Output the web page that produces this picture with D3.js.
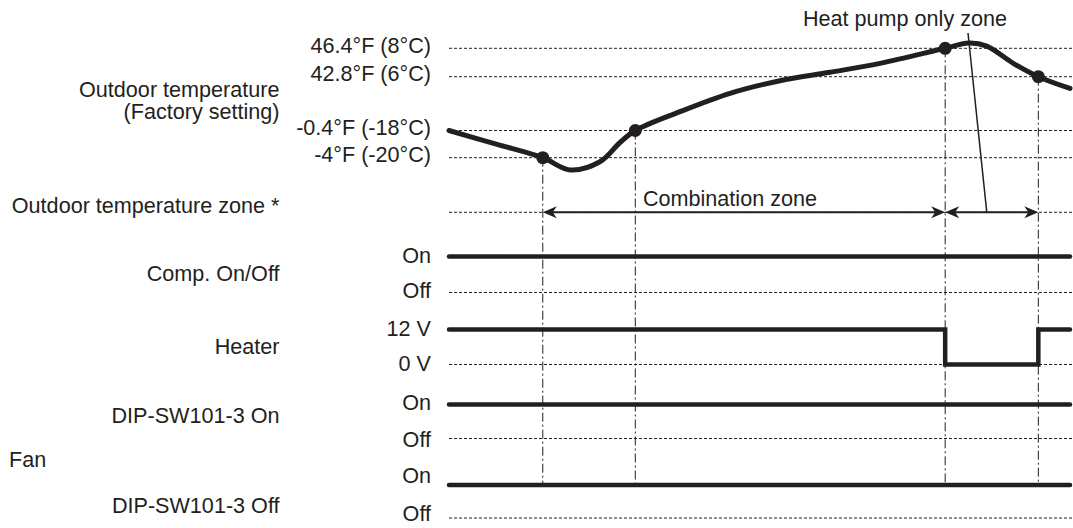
<!DOCTYPE html>
<html lang="en">
<head>
<meta charset="UTF-8">
<title>Heater timing chart</title>
<style>
  html, body { margin: 0; padding: 0; background: #fff; }
  svg text { font-family: "Liberation Sans", Arial, sans-serif; font-size: 21.6px; fill: #231f20; }
</style>
</head>
<body>
<div id="chart"></div>
<script src="https://d3js.org/d3.v7.min.js"></script>
<script>
// temperature levels (deg C) with their labels
const tempLevels = [8, 6, -18, -20];
const tempLabels = ["46.4°F (8°C)", "42.8°F (6°C)", "-0.4°F (-18°C)", "-4°F (-20°C)"];

// outdoor temperature curve, time 0..100, temp in deg C
const curveTime = [0, 7.6, 15.1, 19.5, 24.3, 27.5, 30, 37.2, 45.25, 53.3, 61.35, 69.4, 79.9, 83.7, 86.6, 90.8, 94.9, 100];
const curveTemp = [-18, -19, -20, -20.9, -20.3, -18.9, -18, -9.6, -1.4, 4.2, 6.31, 6.94, 8, 8.37, 8.15, 6.96, 6, 0.8];

// switching points: time and temperature
const eventTime = [15.1, 30, 79.9, 94.9];
const eventTemp = [-20, -18, 8, 6];

// zones along the time axis
const zoneNames = ["Combination zone", "Heat pump only zone"];
const zoneFrom = [15.1, 79.9];
const zoneTo = [79.9, 94.9];

// timing rows
const rowNames = ["Comp. On/Off", "Heater", "DIP-SW101-3 On", "DIP-SW101-3 Off"];
const rowStates = [["On", "Off"], ["12 V", "0 V"], ["On", "Off"], ["On", "Off"]];
// step signals: [time, level] with 1 = high, 0 = low
const rowSignals = [
  [[0, 1], [100, 1]],
  [[0, 1], [79.9, 0], [94.9, 1], [100, 1]],
  [[0, 1], [100, 1]],
  [[0, 1], [100, 1]]
];

// ---- layout ----
const W = 1073, H = 528;
const ink = "#231f20";
const x0 = 449, x1 = 1070;
const labelRight = 279.5, valueRight = 431;
// y of high/low line per row, and label baseline offsets
const rowLineY = [[256.5, 292.5], [329.5, 364.5], [404.5, 438.5], [485, 518]];
const rowStateDy = [[6, 5], [6.5, 6.5], [5.5, 8], [-1.7, 2.7]];
const rowLabelY = [280.7, 354.3, 423.3, 512.7];
const zoneY = 212.3;

const svg = d3.select("#chart").append("svg")
  .attr("width", W).attr("height", H);

const x = d3.scaleLinear().domain([0, 100]).range([x0, x1]);
const yT = d3.scaleLinear().domain([-20, -18, 6, 8]).range([157.7, 130.5, 76.7, 48.3]);

const dotted = "3,2";

// temperature dotted lines + labels
tempLevels.forEach((t, i) => {
  svg.append("line")
    .attr("x1", x0).attr("x2", W)
    .attr("y1", yT(t)).attr("y2", yT(t))
    .attr("stroke", ink).attr("stroke-width", 1).attr("stroke-dasharray", dotted);
  svg.append("text")
    .attr("x", valueRight).attr("y", yT(t) + 4.2)
    .attr("text-anchor", "end")
    .text(tempLabels[i]);
});

// left labels
svg.append("text").attr("x", labelRight).attr("y", 96.7).attr("text-anchor", "end").text("Outdoor temperature");
svg.append("text").attr("x", labelRight).attr("y", 119.3).attr("text-anchor", "end").text("(Factory setting)");
svg.append("text").attr("x", labelRight).attr("y", 212.7).attr("text-anchor", "end").text("Outdoor temperature zone *");
svg.append("text").attr("x", 9).attr("y", 467.3).text("Fan");

// zone row dotted line
svg.append("line")
  .attr("x1", x0).attr("x2", W)
  .attr("y1", zoneY).attr("y2", zoneY)
  .attr("stroke", ink).attr("stroke-width", 1).attr("stroke-dasharray", dotted);

// timing rows
rowNames.forEach((name, i) => {
  svg.append("text")
    .attr("x", labelRight).attr("y", rowLabelY[i])
    .attr("text-anchor", "end")
    .text(name);
  const [yHi, yLo] = rowLineY[i];
  rowStates[i].forEach((s, k) => {
    svg.append("text")
      .attr("x", valueRight).attr("y", rowLineY[i][k] + rowStateDy[i][k])
      .attr("text-anchor", "end")
      .text(s);
  });
  svg.append("line")
    .attr("x1", x0).attr("x2", W)
    .attr("y1", yLo).attr("y2", yLo)
    .attr("stroke", ink).attr("stroke-width", 1).attr("stroke-dasharray", dotted);
});

// vertical dash-dot lines at switching points
eventTime.forEach((t, i) => {
  svg.append("line")
    .attr("x1", x(t)).attr("x2", x(t))
    .attr("y1", yT(eventTemp[i])).attr("y2", rowLineY[3][0])
    .attr("stroke", ink).attr("stroke-width", 1)
    .attr("stroke-dasharray", "9,3,2,3");
});

// signal lines
rowSignals.forEach((sig, i) => {
  const [yHi, yLo] = rowLineY[i];
  const line = d3.line()
    .x(d => x(d[0]))
    .y(d => d[1] ? yHi : yLo)
    .curve(d3.curveStepAfter);
  svg.append("path")
    .attr("d", line(sig))
    .attr("fill", "none")
    .attr("stroke", ink).attr("stroke-width", 4.5)
    .attr("stroke-linecap", "round")
    .attr("stroke-linejoin", "miter");
});

// temperature curve
const curve = d3.line()
  .x((d, i) => x(curveTime[i]))
  .y(d => yT(d))
  .curve(d3.curveCatmullRom.alpha(0.5));
svg.append("path")
  .attr("d", curve(curveTemp))
  .attr("fill", "none")
  .attr("stroke", ink).attr("stroke-width", 5)
  .attr("stroke-linecap", "round");

svg.selectAll("circle.ev")
  .data(eventTime)
  .enter().append("circle")
  .attr("class", "ev")
  .attr("cx", d => x(d))
  .attr("cy", (d, i) => yT(eventTemp[i]))
  .attr("r", 6.5)
  .attr("fill", ink);

// zone arrows
const head = "M0,0 L14,-6 L10,0 L14,6 Z";
zoneNames.forEach((name, i) => {
  const a = x(zoneFrom[i]), b = x(zoneTo[i]);
  svg.append("line")
    .attr("x1", a + 4).attr("x2", b - 4)
    .attr("y1", zoneY).attr("y2", zoneY)
    .attr("stroke", ink).attr("stroke-width", 2);
  svg.append("path").attr("d", head).attr("fill", ink)
    .attr("transform", `translate(${a},${zoneY})`);
  svg.append("path").attr("d", head).attr("fill", ink)
    .attr("transform", `translate(${b},${zoneY}) rotate(180)`);
});

// zone labels
svg.append("text")
  .attr("x", (x(zoneFrom[0]) + x(zoneTo[0])) / 2 - 14).attr("y", 206)
  .attr("text-anchor", "middle")
  .text(zoneNames[0]);
svg.append("text")
  .attr("x", 905).attr("y", 26)
  .attr("text-anchor", "middle")
  .text(zoneNames[1]);
// leader from heat pump label to its arrow
svg.append("line")
  .attr("x1", 968).attr("y1", 33)
  .attr("x2", x(86.6)).attr("y2", zoneY)
  .attr("stroke", ink).attr("stroke-width", 1.5);
</script>
</body>
</html>
